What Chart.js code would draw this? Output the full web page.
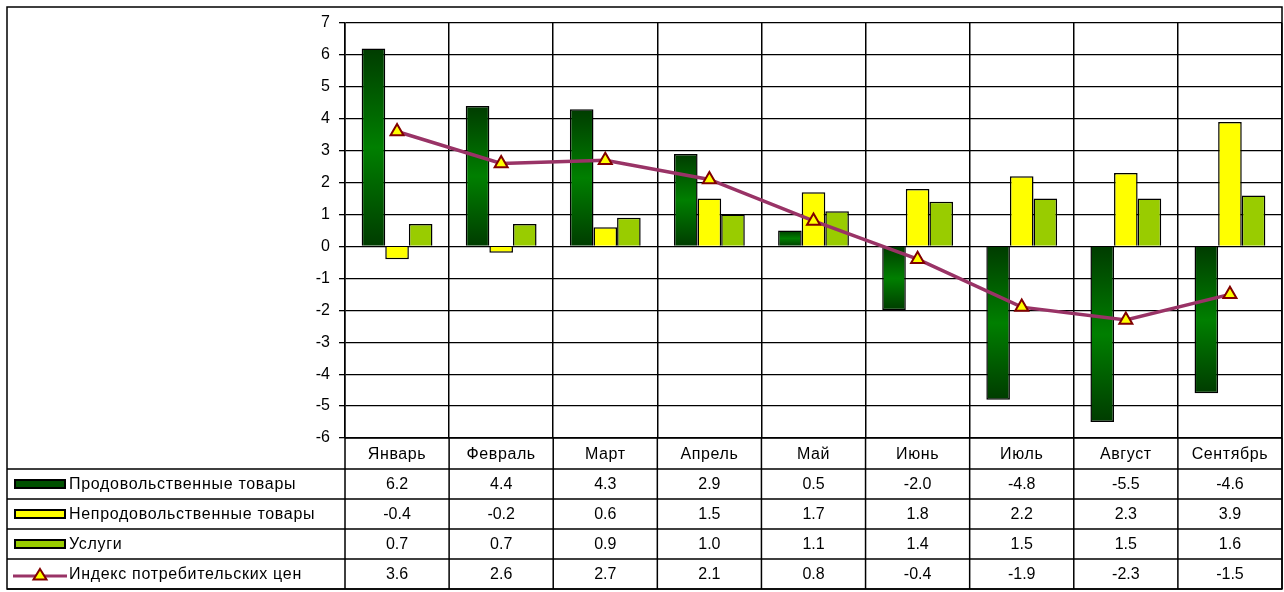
<!DOCTYPE html>
<html>
<head>
<meta charset="utf-8">
<script src="https://cdn.jsdelivr.net/npm/chart.js@4/dist/chart.umd.min.js"></script>
<style>
  body { margin: 0; background: #fff; }
  #wrap { width: 1284px; height: 592px; }
</style>
</head>
<body>
<div id="wrap"><canvas id="myChart" width="1284" height="592"></canvas></div>
<script>
// months and series
const months = ['Январь', 'Февраль', 'Март', 'Апрель', 'Май', 'Июнь', 'Июль', 'Август', 'Сентябрь'];
const food = [6.2, 4.4, 4.3, 2.9, 0.5, -2.0, -4.8, -5.5, -4.6];
const nonFood = [-0.4, -0.2, 0.6, 1.5, 1.7, 1.8, 2.2, 2.3, 3.9];
const services = [0.7, 0.7, 0.9, 1.0, 1.1, 1.4, 1.5, 1.5, 1.6];
const cpi = [3.6, 2.6, 2.7, 2.1, 0.8, -0.4, -1.9, -2.3, -1.5];
const seriesNames = ['Продовольственные товары', 'Непродовольственные товары', 'Услуги', 'Индекс потребительских цен'];
const yTicks = [-6, -5, -4, -3, -2, -1, 0, 1, 2, 3, 4, 5, 6, 7];

const FAMILY = '"Liberation Sans", Arial, sans-serif';
const FONT = '16px ' + FAMILY;
const tableTop = 438;
const rowLines = [469, 499, 529, 559, 589];

// dark-bright-dark gradient along each green bar
function foodFill(c) {
  const chart = c.chart;
  const y = chart.scales.y;
  if (!y || c.type !== 'data' || y.top === undefined) return '#006000';
  const p0 = y.getPixelForValue(0);
  const p1 = y.getPixelForValue(c.raw);
  const a = Math.min(p0, p1), b = Math.max(p0, p1);
  if (b - a < 1) return '#004000';
  const g = chart.ctx.createLinearGradient(0, a, 0, b);
  g.addColorStop(0, '#003c00');
  g.addColorStop(0.5, '#007f00');
  g.addColorStop(1, '#003c00');
  return g;
}

const tablePlugin = {
  id: 'dataTable',
  afterDraw(chart) {
    const ctx = chart.ctx;
    const x = chart.scales.x;
    const left = x.left, right = x.right;
    const w = (right - left) / months.length;
    ctx.save();
    ctx.strokeStyle = '#000';
    ctx.lineWidth = 1.5;
    // outer frame
    ctx.strokeRect(7, 7, 1275, 582);

    // table lines
    ctx.beginPath();
    ctx.moveTo(left, tableTop); ctx.lineTo(right, tableTop);
    rowLines.forEach(yy => { ctx.moveTo(7, yy); ctx.lineTo(right, yy); });
    for (let i = 0; i <= months.length; i++) {
      const xx = left + i * w;
      ctx.moveTo(xx, tableTop); ctx.lineTo(xx, 589);
    }
    ctx.stroke();

    ctx.fillStyle = '#000';
    ctx.font = FONT;
    ctx.textAlign = 'center';
    ctx.textBaseline = 'middle';
    ctx.letterSpacing = '0.6px';
    months.forEach((m, i) => {
      ctx.fillText(m, x.getPixelForValue(i), (tableTop + rowLines[0]) / 2 + 1);
    });
    ctx.letterSpacing = '0px';
    const rows = [food, nonFood, services, cpi];
    rows.forEach((vals, r) => {
      const cy = (rowLines[r] + rowLines[r + 1]) / 2 + 1;
      vals.forEach((v, i) => {
        ctx.fillText(v.toFixed(1), x.getPixelForValue(i), cy);
      });
    });

    // legend keys
    const fills = ['#005000', '#ffff00', '#99cc00'];
    ctx.letterSpacing = '0.7px';
    rows.forEach((vals, r) => {
      const cy = (rowLines[r] + rowLines[r + 1]) / 2;
      if (r < 3) {
        ctx.fillStyle = fills[r];
        ctx.fillRect(15, cy - 4, 50, 8);
        ctx.lineWidth = 2;
        ctx.strokeStyle = '#000';
        ctx.strokeRect(15, cy - 4, 50, 8);
      } else {
        ctx.strokeStyle = '#993366';
        ctx.lineWidth = 3;
        ctx.beginPath(); ctx.moveTo(13, cy + 2); ctx.lineTo(67, cy + 2); ctx.stroke();
        ctx.beginPath();
        ctx.moveTo(40, cy - 5); ctx.lineTo(46.5, cy + 5.5); ctx.lineTo(33.5, cy + 5.5); ctx.closePath();
        ctx.fillStyle = '#ffff00'; ctx.fill();
        ctx.strokeStyle = '#800000'; ctx.lineWidth = 2; ctx.stroke();
      }
      ctx.fillStyle = '#000';
      ctx.textAlign = 'left';
      ctx.fillText(seriesNames[r], 69, cy + 1);
    });
    ctx.restore();
  }
};

const data = {
  labels: months,
  datasets: [
    { type: 'line', label: seriesNames[3], data: cpi, order: 0,
      borderColor: '#993366', borderWidth: 3.5, tension: 0,
      pointStyle: 'triangle', pointRadius: 7.5, pointBackgroundColor: '#ffff00',
      pointBorderColor: '#800000', pointBorderWidth: 2 },
    { label: seriesNames[0], data: food, order: 1, backgroundColor: foodFill, borderColor: '#000', borderWidth: 1.5 },
    { label: seriesNames[1], data: nonFood, order: 1, backgroundColor: '#ffff00', borderColor: '#000', borderWidth: 1.5 },
    { label: seriesNames[2], data: services, order: 1, backgroundColor: '#99cc00', borderColor: '#000', borderWidth: 1.5 }
  ]
};

const options = {
  responsive: false,
  animation: false,
  layout: { autoPadding: false, padding: { left: 0, top: 23, right: 2, bottom: 592 - tableTop } },
  datasets: { bar: { categoryPercentage: 0.68, barPercentage: 1 } },
  plugins: { legend: { display: false }, tooltip: { enabled: false } },
  scales: {
    x: {
      grid: { offset: true, color: '#000', lineWidth: 1.5, drawTicks: false },
      border: { display: false },
      ticks: { display: false },
      afterFit: s => { s.height = 0; s.paddingLeft = 0; s.paddingRight = 0; }
    },
    y: {
      min: -6, max: 7,
      afterBuildTicks: s => { s.ticks = yTicks.map(v => ({ value: v })); },
      afterFit: s => { s.width = 345; },
      grid: { color: '#000', lineWidth: 1.3, tickLength: 6 },
      border: { color: '#000', width: 1.5 },
      ticks: { color: '#000', font: { family: FAMILY, size: 16 }, padding: 9 }
    }
  }
};

const ctx = document.getElementById('myChart').getContext('2d');
const myChart = new Chart(ctx, { type: 'bar', data: data, options: options, plugins: [tablePlugin] });
</script>
</body>
</html>
